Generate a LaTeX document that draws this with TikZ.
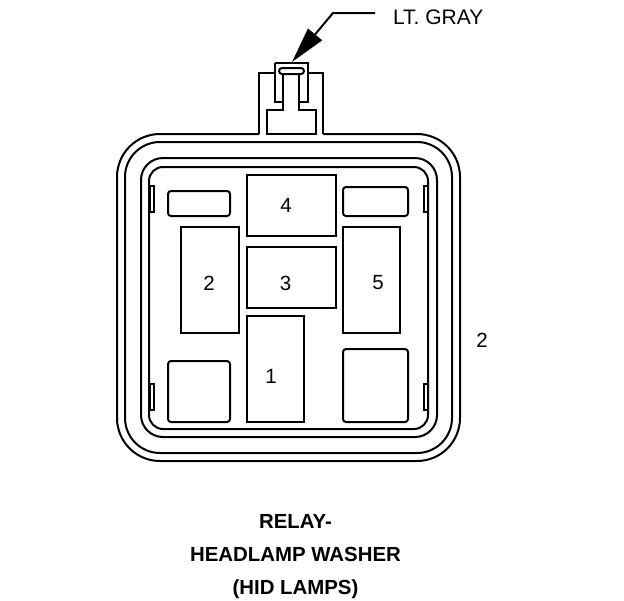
\documentclass[tikz,border=0pt]{standalone}
\usepackage{fontspec}
\setmainfont{Liberation Sans}
\usetikzlibrary{arrows.meta}
\tikzset{
    pocket/.style={draw, rectangle, inner sep=0pt},
    roundpocket/.style={pocket, rounded corners=3pt},
    notch/.style={draw, rectangle, inner sep=0pt, minimum width=4pt, minimum height=26pt},
    pinlabel/.style={inner sep=0pt, font=\fontsize{20.5}{20.5}\selectfont},
    calloutlabel/.style={inner sep=0pt, font=\fontsize{21}{21}\selectfont},
    titlelabel/.style={inner sep=0pt, anchor=base, font=\fontsize{20.4}{20.4}\selectfont\bfseries}
}
\begin{document}
\begin{tikzpicture}[x=1pt, y=-1pt, line width=2pt]
    \useasboundingbox (0, 0) rectangle (624, 600);

    % Draw the housing
    \draw[rounded corners=43pt] (259, 134) -- (117, 134) -- (117, 461) -- (460, 461) -- (460, 134) -- (323, 134);
    \draw[rounded corners=35pt] (125, 142) rectangle (452, 453);
    \draw[rounded corners=22pt] (141, 158) rectangle (437, 437);
    \draw[rounded corners=14pt] (149, 167) rectangle (428, 429);

    % Draw the latch
    \draw (259, 134) -- (259, 73) -- (275, 73);
    \draw (308, 73) -- (323, 73) -- (323, 134);
    \draw (275, 63) -- (308, 63) -- (308, 102) -- (299, 102);
    \draw (275, 63) -- (275, 102) -- (283, 102);
    \draw (283, 74) -- (283, 110) -- (267, 110) -- (267, 134) -- (316, 134) -- (316, 110) -- (299, 110) -- (299, 74);
    \node[draw, rectangle, rounded corners=3pt, inner sep=0pt, minimum width=25pt, minimum height=6pt] (slot) at (291.5, 71) {};
    \coordinate (plugtop) at (292, 62);

    % Draw the cavities
    \node[pocket, minimum width=89pt, minimum height=61pt] (cavity4) at (291.5, 205.5) {};
    \node[pocket, minimum width=89pt, minimum height=61pt] (cavity3) at (291.5, 277.5) {};
    \node[pocket, minimum width=57pt, minimum height=106pt] (cavity1) at (275.5, 369) {};
    \node[pocket, minimum width=58pt, minimum height=106pt] (cavity2) at (210, 280) {};
    \node[pocket, minimum width=57pt, minimum height=106pt] (cavity5) at (371.5, 280) {};
    \node[roundpocket, minimum width=62pt, minimum height=25pt] (blankTL) at (199, 203.5) {};
    \node[roundpocket, minimum width=65pt, minimum height=29pt] (blankTR) at (375.5, 201.5) {};
    \node[roundpocket, minimum width=62pt, minimum height=61pt] (blankBL) at (199, 391.5) {};
    \node[roundpocket, minimum width=65pt, minimum height=73pt] (blankBR) at (375.5, 385.5) {};

    % Draw the notches
    \node[notch] (notchTL) at (152, 199) {};
    \node[notch] (notchBL) at (152, 397) {};
    \node[notch] (notchTR) at (426, 199) {};
    \node[notch] (notchBR) at (426, 397) {};

    % Draw the pin numbers
    \node[pinlabel] (pin4) at (286, 205) {4};
    \node[pinlabel] (pin3) at (285.5, 283) {3};
    \node[pinlabel] (pin2) at (209, 283) {2};
    \node[pinlabel] (pin5) at (378, 283) {5};
    \node[pinlabel] (pin1) at (271, 376) {1};
    \node[pinlabel] (side2) at (482, 340) {2};

    % Draw the colour callout
    \node[calloutlabel, anchor=base west] (color) at (392, 24) {LT. GRAY};
    \coordinate (leaderend) at (375, 13);
    \coordinate (leaderbend) at (333, 13);
    \draw[-{Triangle[length=36pt, width=18pt]}] (leaderend) -- (leaderbend) -- (plugtop);

    % Draw the title
    \node[titlelabel] (title1) at (295.5, 528) {RELAY-};
    \node[titlelabel] (title2) at (295.5, 561) {HEADLAMP WASHER};
    \node[titlelabel] (title3) at (295.5, 594) {(HID LAMPS)};
\end{tikzpicture}
\end{document}
